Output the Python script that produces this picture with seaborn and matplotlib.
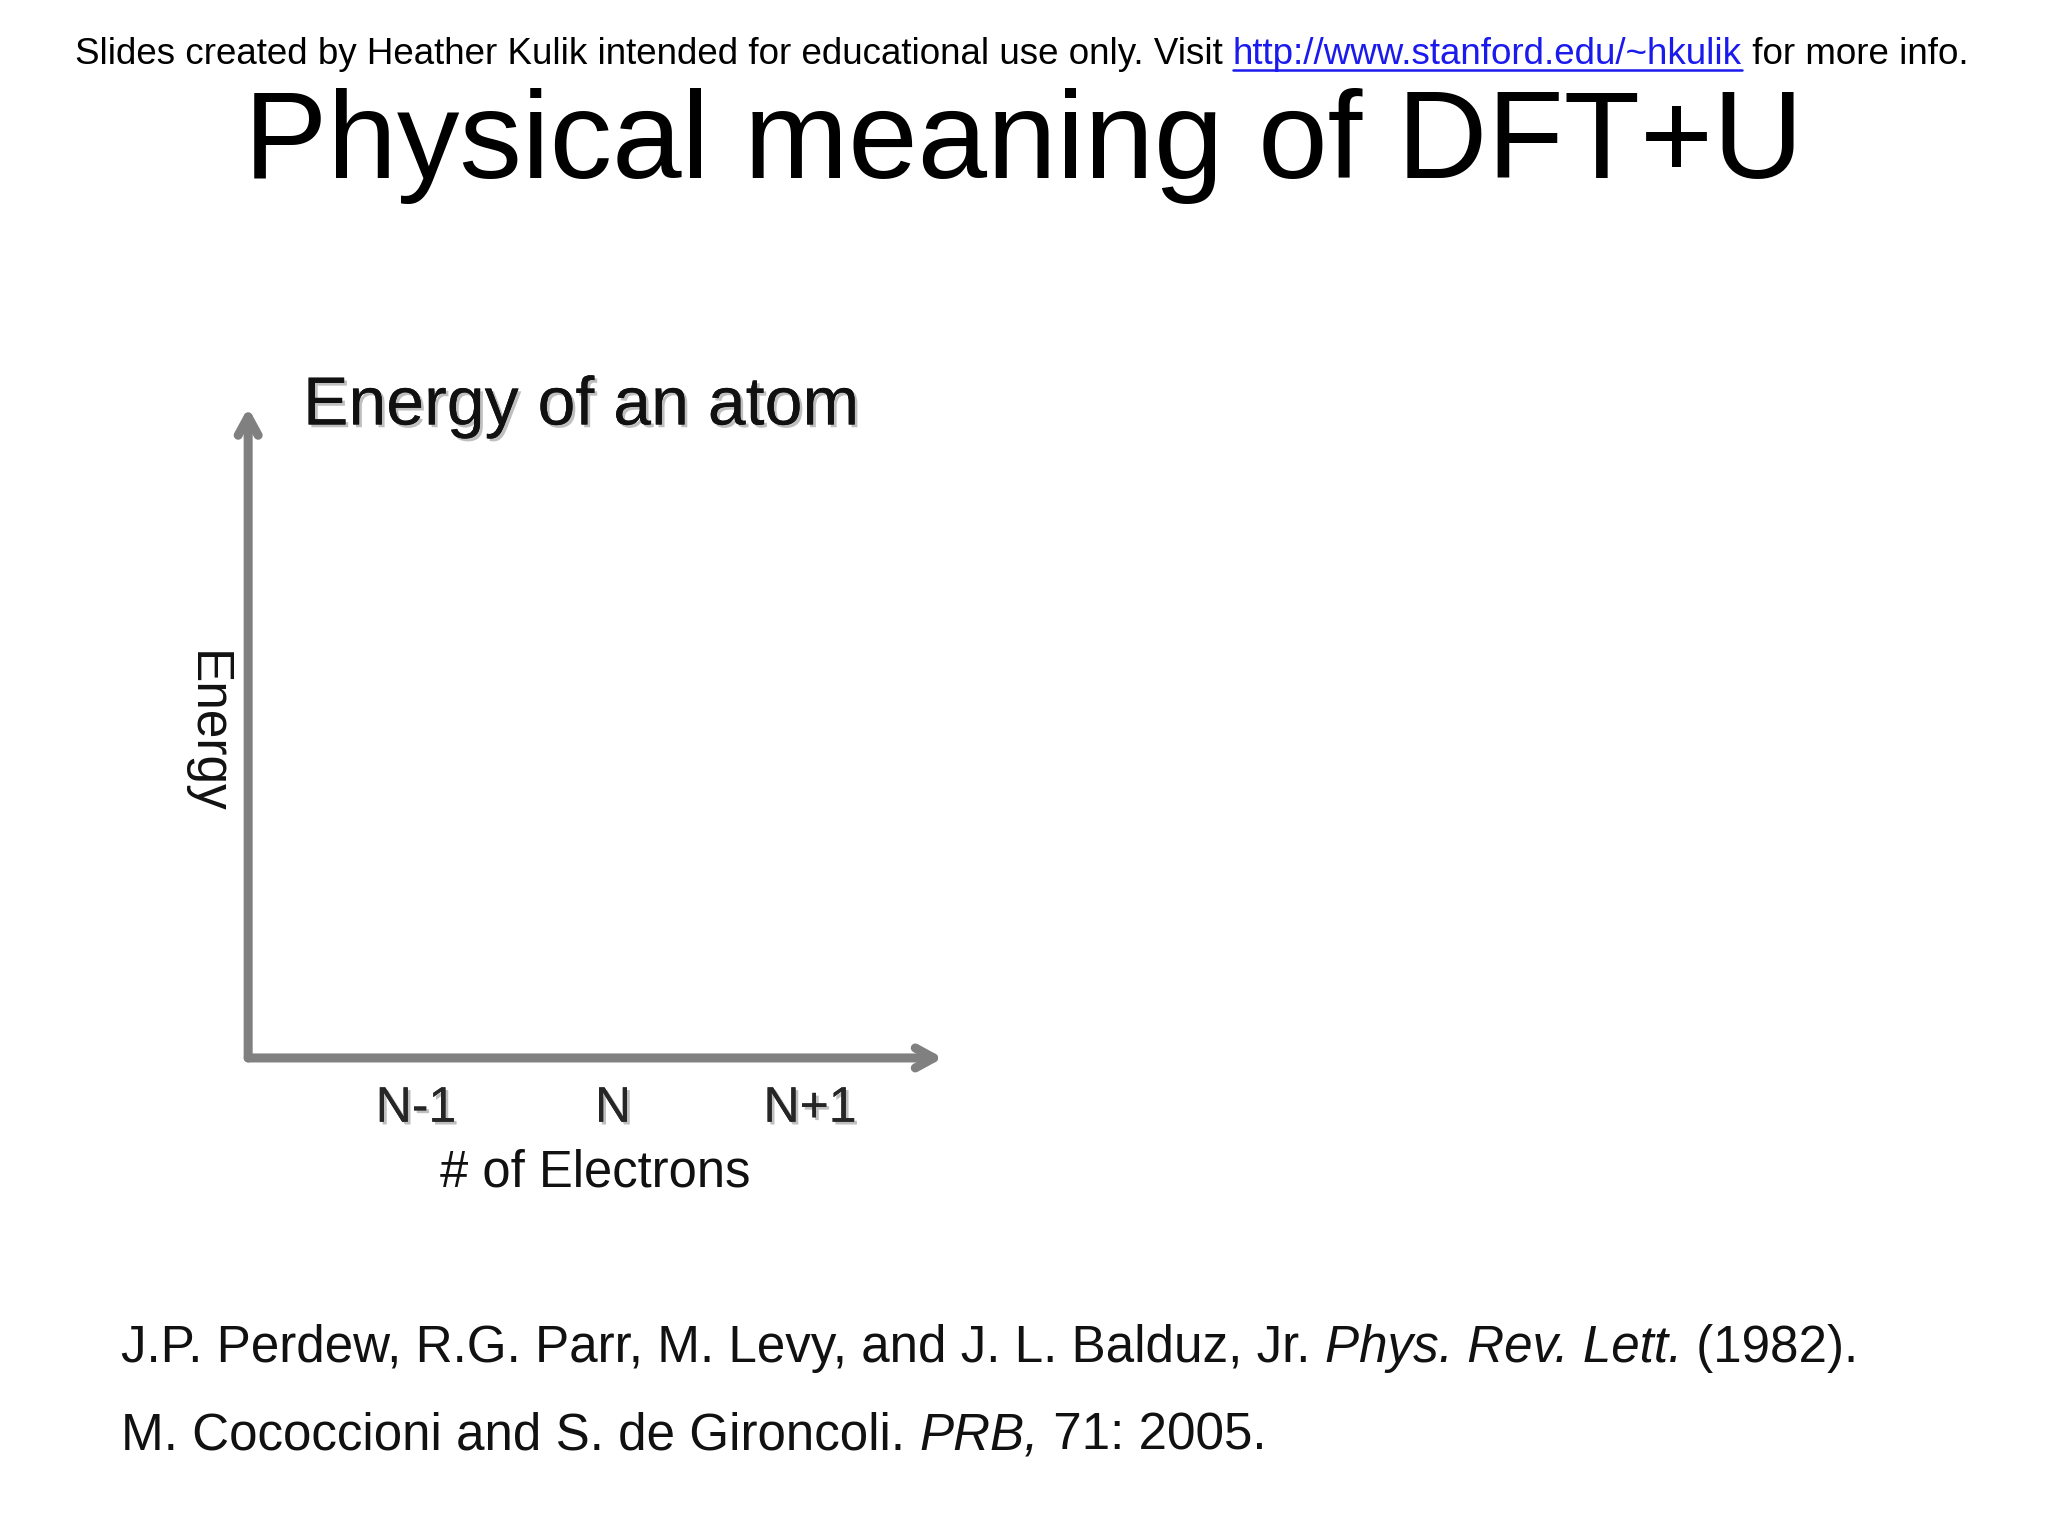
import matplotlib
matplotlib.use("Agg")
import matplotlib.pyplot as plt
import matplotlib.patheffects as pe
import seaborn as sns

sns.set_theme(style="white")
plt.rcParams['font.family'] = ['Liberation Sans', 'DejaVu Sans']

# --- text content ---
tick_positions = [1, 2, 3]
tick_labels = ["N-1", "N", "N+1"]
note_parts = [("Slides created by Heather Kulik intended for educational use only. Visit ", "normal", "black"),
              ("http://www.stanford.edu/~hkulik", "normal", "#1a1aee"),
              (" for more info.", "normal", "black")]
ref1_parts = [("J.P. Perdew, R.G. Parr, M. Levy, and J. L. Balduz, Jr. ", "normal", "#111111"),
              ("Phys. Rev. Lett.", "italic", "#111111"),
              (" (1982).", "normal", "#111111")]
ref2_parts = [("M. Cococcioni and S. de Gironcoli. ", "normal", "#111111"),
              ("PRB,", "italic", "#111111"),
              (" 71: 2005.", "normal", "#111111")]

W, H = 1568, 1176
fig = plt.figure(figsize=(20.48, 15.36), dpi=100)
fig.patch.set_facecolor("white")
renderer = fig.canvas.get_renderer()


def put_parts(parts, x, y, size, center=False, underline_idx=None):
    texts = []
    cx = x
    for s, style, col in parts:
        t = fig.text(cx, y, s, fontsize=size, style=style, color=col, va="baseline")
        bb = t.get_window_extent(renderer).transformed(fig.transFigure.inverted())
        cx += bb.width
        texts.append(t)
    if center:
        cx = x - (cx - x) / 2
        for t in texts:
            t.set_x(cx)
            cx += t.get_window_extent(renderer).transformed(fig.transFigure.inverted()).width
    if underline_idx is not None:
        t = texts[underline_idx]
        bb = t.get_window_extent(renderer).transformed(fig.transFigure.inverted())
        fig.add_artist(plt.Line2D([bb.x0, bb.x1], [y - 0.004, y - 0.004],
                                  color=t.get_color(), lw=1.8, transform=fig.transFigure))


put_parts(note_parts, 782 / W, 1 - 49 / H, 26.5, center=True, underline_idx=1)
fig.text(784 / W, 1 - 136 / H, "Physical meaning of DFT+U", fontsize=90,
         ha="center", va="baseline", color="black")

# --- empty axes with arrow axes ---
ax = fig.add_axes([190 / W, 1 - 810 / H, (722 - 190) / W, (810 - 312) / H])
ax.set_facecolor("none")
ax.set_xlim(0.148, 3.675)
ax.set_ylim(0, 1)
for sp in ax.spines.values():
    sp.set_visible(False)
ax.set_yticks([])
ax.set_xticks(tick_positions)
ax.set_xticklabels(tick_labels, fontsize=36)
ax.tick_params(axis="x", length=0, pad=20)
shadow = [pe.withSimplePatchShadow(offset=(2, -2), shadow_rgbFace="gray", alpha=0.5), pe.Normal()]
for lab in ax.get_xticklabels():
    lab.set_path_effects(shadow)
ax.set_xlabel("# of Electrons", fontsize=36.5, labelpad=12, color="#111111")
ax.set_ylabel("Energy", fontsize=37, rotation=-90, labelpad=48, va="bottom", color="#111111")

arrow = dict(arrowstyle="->,head_length=1.1,head_width=0.6", color="#808080", lw=6.5,
             shrinkA=0, shrinkB=0)
ax.annotate("", xy=(1.0, 0), xytext=(0, 0), xycoords="axes fraction", arrowprops=arrow)
ax.annotate("", xy=(0, 1.0), xytext=(0, 0), xycoords="axes fraction", arrowprops=arrow)

fig.text(232 / W, 1 - 325 / H, "Energy of an atom", fontsize=49, color="#111111",
         va="baseline", path_effects=shadow)

put_parts(ref1_parts, 93 / W, 1 - 1043 / H, 36.8)
put_parts(ref2_parts, 93 / W, 1 - 1110 / H, 36.8)

fig.savefig("out.png", dpi=100, facecolor="white")
